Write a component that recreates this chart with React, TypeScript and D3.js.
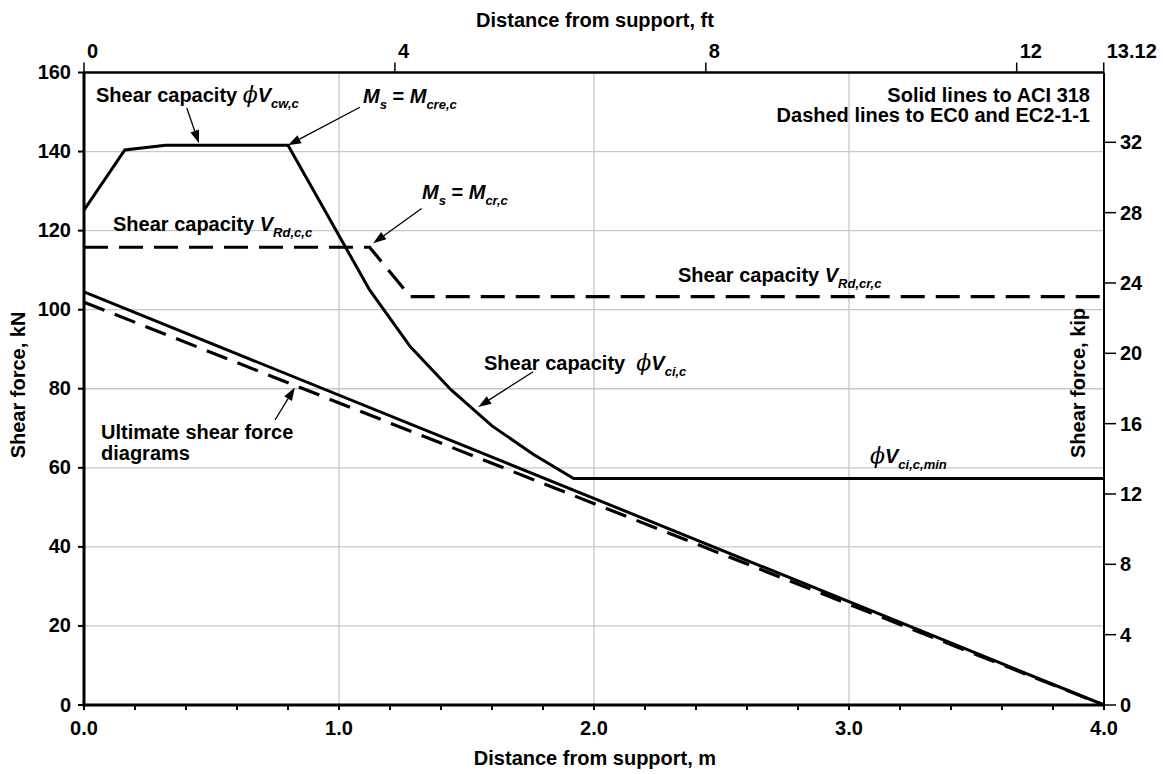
import React from "react";
import * as d3 from "d3";

// distance from support, m
const capX = [0, 0.16, 0.32, 0.48, 0.64, 0.8, 0.96, 1.12, 1.28, 1.44, 1.6, 1.76, 1.92, 4.0];
// ACI 318 shear capacity phiVcw / phiVci, kN
const aciCapacity = [125.2, 140.4, 141.6, 141.6, 141.6, 141.6, 123.3, 105.0, 90.6, 79.7, 70.6, 63.5, 57.3, 57.3];
// EC2 shear capacity VRd,c, kN
const ecX = [0, 1.12, 1.28, 4.0];
const ecCapacity = [115.8, 115.8, 103.3, 103.3];
// ultimate shear force diagrams, kN
const shearX = [0, 4.0];
const aciShear = [104.5, 0];
const ecShear = [101.9, 0];

const mTicks = [0, 1, 2, 3, 4];
const mMinorTicks = d3.range(0, 4.001, 0.2);
const kNTicks = [0, 20, 40, 60, 80, 100, 120, 140, 160];
const ftTicks = [0, 4, 8, 12, 13.12];
const kipTicks = [0, 4, 8, 12, 16, 20, 24, 28, 32];

const W = 1163;
const H = 774;
const font = "'Liberation Sans', Arial, sans-serif";
const phiFont = "'DejaVu Serif', 'Liberation Serif', serif";

const x = d3.scaleLinear().domain([0, 4]).range([84, 1104]);
const y = d3.scaleLinear().domain([0, 160]).range([705, 72.5]);
const xFt = d3.scaleLinear().domain([0, 4 / 0.3048]).range([84, 1104]);
const yKip = d3.scaleLinear().domain([0, 160 / 4.44822]).range([705, 72.5]);

const line = d3
  .line<[number, number]>()
  .x(d => x(d[0]))
  .y(d => y(d[1]));

const pts = (xs: number[], vs: number[]) => xs.map((d, i) => [d, vs[i]] as [number, number]);

// arrow from text to curve, given in data units
const Arrow = ({ from, to }: { from: number[]; to: number[] }) => {
  const x1 = x(from[0]);
  const y1 = y(from[1]);
  const x2 = x(to[0]);
  const y2 = y(to[1]);
  const a = Math.atan2(y2 - y1, x2 - x1);
  const len = 13;
  const hw = 4.5;
  const bx = x2 - len * Math.cos(a);
  const by = y2 - len * Math.sin(a);
  const head = [
    [x2, y2],
    [bx + hw * Math.sin(a), by - hw * Math.cos(a)],
    [bx - hw * Math.sin(a), by + hw * Math.cos(a)],
  ];
  return (
    <g>
      <line x1={x1} y1={y1} x2={bx} y2={by} stroke="#000" strokeWidth={1.3} />
      <polygon points={head.map(p => p.join(",")).join(" ")} fill="#000" />
    </g>
  );
};

const Sub = ({ children }: { children: string }) => (
  <tspan fontSize={13} fontStyle="italic" dy={6}>
    {children}
  </tspan>
);

const Phi = () => (
  <tspan fontFamily={phiFont} fontStyle="italic" fontWeight="normal" fontSize={22}>
    ϕ
  </tspan>
);

const App = () => {
  return (
    <svg width={W} height={H} style={{ position: "absolute", left: 0, top: 0 }} fontFamily={font} fontWeight="bold">
      <rect width={W} height={H} fill="#fff" />

      {/* grid */}
      {kNTicks.slice(1, -1).map(t => (
        <line key={"gy" + t} x1={x(0)} x2={x(4)} y1={y(t)} y2={y(t)} stroke="#c8c8c8" strokeWidth={1.3} />
      ))}
      {mTicks.slice(1, -1).map(t => (
        <line key={"gx" + t} x1={x(t)} x2={x(t)} y1={y(0)} y2={y(160)} stroke="#c8c8c8" strokeWidth={1.3} />
      ))}

      {/* series */}
      <path d={line(pts(shearX, ecShear)) || ""} fill="none" stroke="#000" strokeWidth={3.2} strokeDasharray="22,11" />
      <path d={line(pts(shearX, aciShear)) || ""} fill="none" stroke="#000" strokeWidth={3} />
      <path d={line(pts(ecX, ecCapacity)) || ""} fill="none" stroke="#000" strokeWidth={3.2} strokeDasharray="24,11" />
      <path d={line(pts(capX, aciCapacity)) || ""} fill="none" stroke="#000" strokeWidth={3} />

      {/* axes frame */}
      <line x1={x(0)} x2={x(4)} y1={y(160)} y2={y(160)} stroke="#000" strokeWidth={2.3} />
      <line x1={x(4)} x2={x(4)} y1={y(0)} y2={y(160)} stroke="#000" strokeWidth={2} />
      <line x1={x(0)} x2={x(0)} y1={y(0) + 1.5} y2={y(160)} stroke="#000" strokeWidth={3} />
      <line x1={x(0) - 1.5} x2={x(4)} y1={y(0)} y2={y(0)} stroke="#000" strokeWidth={3} />

      {/* bottom axis */}
      {mMinorTicks.map(t => (
        <line key={"mt" + t} x1={x(t)} x2={x(t)} y1={y(0)} y2={y(0) + 5} stroke="#000" strokeWidth={2} />
      ))}
      {mTicks.map(t => (
        <text key={"ml" + t} x={x(t)} y={735} textAnchor="middle" fontSize={20}>
          {d3.format(".1f")(t)}
        </text>
      ))}
      <text x={595} y={765} textAnchor="middle" fontSize={20}>
        Distance from support, m
      </text>

      {/* top axis */}
      {ftTicks.map(t => (
        <g key={"ft" + t}>
          <line x1={xFt(t)} x2={xFt(t)} y1={y(160)} y2={y(160) - 10} stroke="#000" strokeWidth={1.5} />
          <text x={xFt(t) + 3} y={58} fontSize={20}>
            {t}
          </text>
        </g>
      ))}
      <text x={595} y={27} textAnchor="middle" fontSize={20}>
        Distance from support, ft
      </text>

      {/* left axis */}
      {kNTicks.map(t => (
        <g key={"kn" + t}>
          <line x1={x(0) - 6} x2={x(0)} y1={y(t)} y2={y(t)} stroke="#000" strokeWidth={2} />
          <text x={71} y={y(t) + 6.5} textAnchor="end" fontSize={20}>
            {t}
          </text>
        </g>
      ))}
      <text transform={`translate(25,385) rotate(-90)`} textAnchor="middle" fontSize={20}>
        Shear force, kN
      </text>

      {/* right axis */}
      {kipTicks.map(t => (
        <g key={"kip" + t}>
          <line x1={x(4)} x2={x(4) + 12} y1={yKip(t)} y2={yKip(t)} stroke="#000" strokeWidth={1.5} />
          <text x={1120} y={yKip(t) + 7} fontSize={20}>
            {t}
          </text>
        </g>
      ))}
      <text transform={`translate(1085,383) rotate(-90)`} textAnchor="middle" fontSize={20}>
        Shear force, kip
      </text>

      {/* notes */}
      <text x={1090} y={102} textAnchor="end" fontSize={20}>
        Solid lines to ACI 318
      </text>
      <text x={1090} y={122} textAnchor="end" fontSize={20}>
        Dashed lines to EC0 and EC2-1-1
      </text>

      <text x={96} y={102} fontSize={20}>
        Shear capacity <Phi />
        <tspan fontStyle="italic">V</tspan>
        <Sub>cw,c</Sub>
      </text>
      <Arrow from={[0.403, 151]} to={[0.451, 142.1]} />

      <text x={363} y={103} fontSize={20}>
        <tspan fontStyle="italic">M</tspan>
        <Sub>s</Sub>
        <tspan dy={-6}> = </tspan>
        <tspan fontStyle="italic">M</tspan>
        <Sub>cre,c</Sub>
      </text>
      <Arrow from={[1.082, 151.2]} to={[0.8, 141.6]} />

      <text x={422} y={199} fontSize={20}>
        <tspan fontStyle="italic">M</tspan>
        <Sub>s</Sub>
        <tspan dy={-6}> = </tspan>
        <tspan fontStyle="italic">M</tspan>
        <Sub>cr,c</Sub>
      </text>
      <Arrow from={[1.324, 125.6]} to={[1.134, 116.8]} />

      <text x={113} y={231} fontSize={20}>
        Shear capacity <tspan fontStyle="italic">V</tspan>
        <Sub>Rd,c,c</Sub>
      </text>

      <text x={678} y={282} fontSize={20}>
        Shear capacity <tspan fontStyle="italic">V</tspan>
        <Sub>Rd,cr,c</Sub>
      </text>

      <text x={484} y={370} fontSize={20} style={{ whiteSpace: "pre" }}>
        {"Shear capacity  "}
        <Phi />
        <tspan fontStyle="italic">V</tspan>
        <Sub>ci,c</Sub>
      </text>
      <Arrow from={[1.761, 84.3]} to={[1.546, 75.4]} />

      <text x={870} y={463} fontSize={20}>
        <Phi />
        <tspan fontStyle="italic">V</tspan>
        <Sub>ci,c,min</Sub>
      </text>

      <text x={101} y={439} fontSize={20}>
        Ultimate shear force
      </text>
      <text x={101} y={460} fontSize={20}>
        diagrams
      </text>
      <Arrow from={[0.749, 72.1]} to={[0.827, 80.3]} />
    </svg>
  );
};

export default App;
